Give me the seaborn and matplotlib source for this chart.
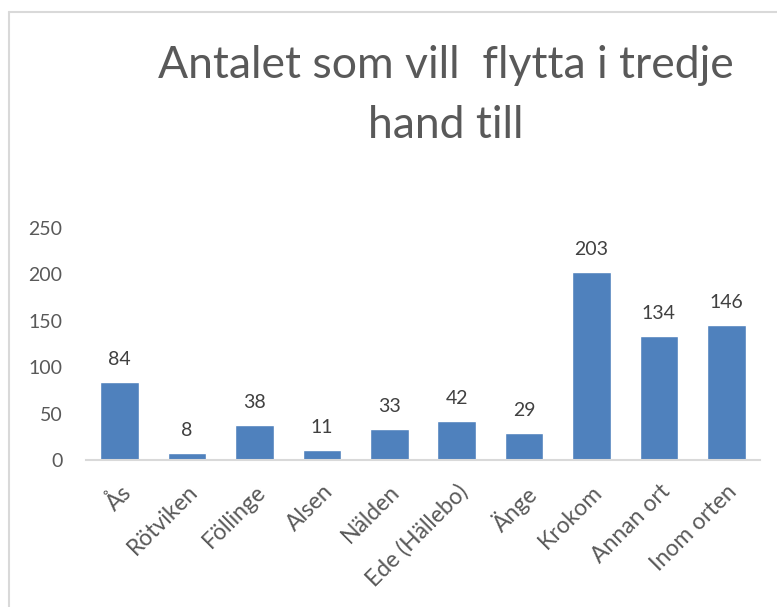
import matplotlib
matplotlib.use("Agg")
import matplotlib.pyplot as plt
import seaborn as sns
from matplotlib.lines import Line2D

platser = ["Ås", "Rötviken", "Föllinge", "Alsen", "Nälden", "Ede (Hällebo)",
           "Änge", "Krokom", "Annan ort", "Inom orten"]
antal = [84, 8, 38, 11, 33, 42, 29, 203, 134, 146]
yticks = [0, 50, 100, 150, 200, 250]
titel = ["Antalet som vill  flytta i tredje", "hand till"]

sns.set_style("white")
plt.rcParams['font.family'] = ['Lato', 'DejaVu Sans']

fig = plt.figure(figsize=(7.77, 6.07), dpi=100)
ax = fig.add_axes([86/777, 1-460/607, (760-86)/777, (460-228)/607])

sns.barplot(x=platser, y=antal, color='#4F81BD', saturation=1, width=0.57, ax=ax)

for i, v in enumerate(antal):
    ax.text(i, v + 15, str(v), ha='center', va='bottom', fontsize=14, color='#404040')

ax.set_ylim(0, 250)
ax.set_xlim(-0.5, len(platser) - 0.5)
ax.set_yticks(yticks)
ax.set_yticklabels([str(t) for t in yticks], fontsize=14, color='#595959')
ax.set_xticks(range(len(platser)))
ax.set_xticklabels(platser, rotation=45, ha='right', va='top', rotation_mode='anchor',
                   fontsize=16.5, color='#595959')
ax.tick_params(axis='both', length=0)
ax.tick_params(axis='x', pad=15)
ax.tick_params(axis='y', pad=17)

for s in ['top', 'right', 'left']:
    ax.spines[s].set_visible(False)
ax.spines['bottom'].set_color('#D9D9D9')
ax.spines['bottom'].set_linewidth(1.5)

fig.text(446/777, 1-78/607, titel[0], ha='center', va='baseline', fontsize=32, color='#595959')
fig.text(446/777, 1-138/607, titel[1], ha='center', va='baseline', fontsize=32, color='#595959')

# outer chart border (only top and left visible)
fig.add_artist(Line2D([9/777, 1], [1-12/607, 1-12/607], color='#D9D9D9', lw=1.5,
                      transform=fig.transFigure))
fig.add_artist(Line2D([9/777, 9/777], [0, 1-12/607], color='#D9D9D9', lw=1.5,
                      transform=fig.transFigure))

plt.savefig('out.png', dpi=100)
plt.close()
